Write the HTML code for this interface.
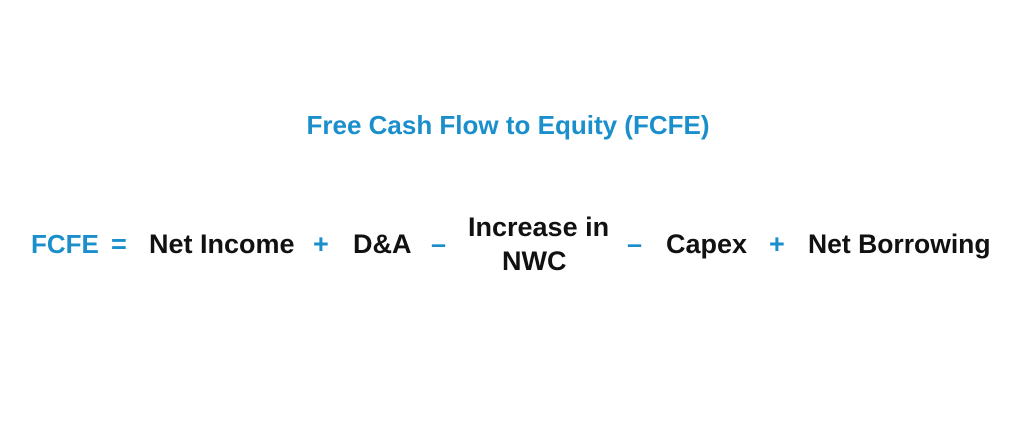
<!DOCTYPE html>
<html><head><meta charset="utf-8"><style>
html,body{margin:0;padding:0;background:#fff;}
body{width:1024px;height:439px;position:relative;overflow:hidden;font-family:"Liberation Sans",sans-serif;font-weight:bold;}
.t{position:absolute;white-space:nowrap;line-height:27px;font-size:27px;color:#111;}
.b{color:#1a8fcc;}
</style></head><body>
<div class="t b" style="left:0;width:1016px;text-align:center;top:112px;font-size:26px;line-height:26px;">Free Cash Flow to Equity (FCFE)</div>
<div class="t b" style="left:31px;top:231px;font-size:26px;">FCFE</div>
<div class="t b" style="left:111px;top:231px;">=</div>
<div class="t" style="left:149px;top:231px;">Net Income</div>
<div class="t b" style="left:313px;top:231px;">+</div>
<div class="t" style="left:353px;top:231px;">D&amp;A</div>
<div class="t b" style="left:431px;top:231px;">–</div>
<div class="t" style="left:468px;top:214px;">Increase in</div>
<div class="t" style="left:502px;top:248px;">NWC</div>
<div class="t b" style="left:627px;top:231px;">–</div>
<div class="t" style="left:666px;top:231px;">Capex</div>
<div class="t b" style="left:769px;top:231px;">+</div>
<div class="t" style="left:808px;top:231px;font-size:26.5px;">Net Borrowing</div>
</body></html>
